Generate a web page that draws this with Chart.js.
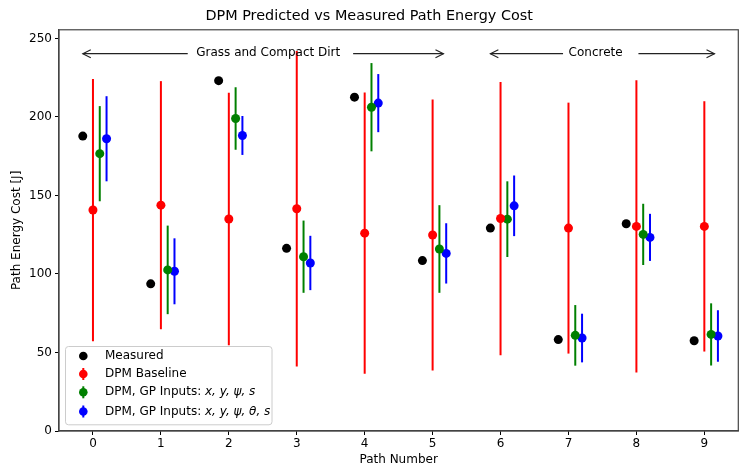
<!DOCTYPE html>
<html lang="en">
<head>
  <meta charset="UTF-8" />
  <title>DPM Predicted vs Measured Path Energy Cost</title>
  <script src="https://cdn.jsdelivr.net/npm/chart.js"></script>
  <style>
    html, body { margin: 0; padding: 0; background: #fff; }
    #wrap { width: 739px; height: 471px; }
  </style>
</head>
<body>
<div id="wrap"><canvas id="energyChart" width="739" height="471"></canvas></div>

<script>
  // path numbers and values
  const paths = [0, 1, 2, 3, 4, 5, 6, 7, 8, 9];
  const measured = [187.8, 93.7, 223.1, 116.3, 212.6, 108.5, 129.2, 58.2, 132.0, 57.5];
  const baseline = [140.7, 143.8, 135.0, 141.5, 126.0, 124.8, 135.3, 129.2, 130.3, 130.3];
  const baselineErr = [83.5, 79.0, 80.4, 100.5, 89.5, 86.3, 87.0, 79.9, 93.1, 79.7];
  const gpXyPsiS = [176.6, 102.6, 199.0, 111.0, 206.2, 115.9, 134.9, 60.9, 125.2, 61.5];
  const gpXyPsiSErr = [30.3, 28.2, 19.9, 23.0, 28.1, 27.9, 24.1, 19.3, 19.5, 19.8];
  const gpXyPsiThS = [186.1, 101.7, 188.2, 107.0, 208.8, 113.1, 143.4, 59.2, 123.3, 60.5];
  const gpXyPsiThSErr = [27.1, 21.0, 12.4, 17.3, 18.5, 19.2, 19.3, 15.5, 15.0, 16.4];
  const yTicks = [0, 50, 100, 150, 200, 250];

  const FONT = "'DejaVu Sans', sans-serif";

  const pts = (vals, off) => paths.map((p, i) => ({ x: p + off, y: vals[i] }));

  // vertical error bars, drawn under each dataset's markers
  const errorBars = {
    id: 'errorBars',
    beforeDatasetDraw(chart, args) {
      const ds = chart.data.datasets[args.index];
      if (!ds.err) return;
      const { ctx, scales: { x, y } } = chart;
      ctx.save();
      ctx.strokeStyle = ds.borderColor;
      ctx.lineWidth = 2;
      ds.data.forEach((d, i) => {
        const px = x.getPixelForValue(d.x);
        ctx.beginPath();
        ctx.moveTo(px, y.getPixelForValue(d.y - ds.err[i]));
        ctx.lineTo(px, y.getPixelForValue(d.y + ds.err[i]));
        ctx.stroke();
      });
      ctx.restore();
    }
  };

  // top/right spines
  const frame = {
    id: 'frame',
    afterDraw(chart) {
      const { ctx, chartArea: a } = chart;
      ctx.save();
      ctx.strokeStyle = '#444';
      ctx.lineWidth = 1.2;
      ctx.strokeRect(a.left, a.top, a.right - a.left, a.bottom - a.top);
      ctx.restore();
    }
  };

  // surface annotations with open arrow heads
  const surfaces = [
    { text: 'Grass and Compact Dirt', left: -0.15, lineL: 1.395, mid: 2.58, lineR: 3.83, right: 5.16 },
    { text: 'Concrete', left: 5.85, lineL: 6.92, mid: 7.4, lineR: 8.03, right: 9.15 }
  ];
  const arrowY = 240.3;

  const annotations = {
    id: 'annotations',
    afterDatasetsDraw(chart) {
      const { ctx, scales: { x, y } } = chart;
      const py = y.getPixelForValue(arrowY);
      ctx.save();
      ctx.strokeStyle = '#222';
      ctx.lineWidth = 1.1;
      const head = (tipX, dir) => {
        ctx.beginPath();
        ctx.moveTo(tipX + dir * 8, py - 4);
        ctx.lineTo(tipX, py);
        ctx.lineTo(tipX + dir * 8, py + 4);
        ctx.stroke();
      };
      surfaces.forEach(s => {
        const l = x.getPixelForValue(s.left), r = x.getPixelForValue(s.right);
        ctx.beginPath();
        ctx.moveTo(l, py); ctx.lineTo(x.getPixelForValue(s.lineL), py);
        ctx.moveTo(x.getPixelForValue(s.lineR), py); ctx.lineTo(r, py);
        ctx.stroke();
        head(l, 1);
        head(r, -1);
        ctx.fillStyle = '#000';
        ctx.font = '12px ' + FONT;
        ctx.textAlign = 'center';
        ctx.textBaseline = 'middle';
        ctx.fillText(s.text, x.getPixelForValue(s.mid), py - 1);
      });
      ctx.restore();
    }
  };

  // matplotlib-style legend in lower left of the axes
  const legendBox = {
    id: 'legendBox',
    afterDraw(chart) {
      const { ctx, chartArea: a } = chart;
      const bx = a.left + 6.5, by = a.bottom - 84.5, bw = 206.5, bh = 78.3;
      ctx.save();
      ctx.fillStyle = 'rgba(255,255,255,0.85)';
      ctx.strokeStyle = '#cccccc';
      ctx.lineWidth = 1;
      ctx.beginPath();
      ctx.roundRect(bx, by, bw, bh, 3);
      ctx.fill();
      ctx.stroke();
      const rows = [356, 374, 392.3, 411.5];
      chart.data.datasets.forEach((ds, i) => {
        const ry = rows[i];
        const mx = 83.3;
        if (ds.err) {
          ctx.strokeStyle = ds.borderColor;
          ctx.lineWidth = 2;
          ctx.beginPath();
          ctx.moveTo(mx, ry - 6); ctx.lineTo(mx, ry + 6);
          ctx.stroke();
        }
        ctx.fillStyle = ds.backgroundColor;
        ctx.beginPath();
        ctx.arc(mx, ry, 4.3, 0, Math.PI * 2);
        ctx.fill();
        ctx.fillStyle = '#000';
        ctx.textAlign = 'left';
        ctx.textBaseline = 'middle';
        let tx = 105;
        ctx.font = '12px ' + FONT;
        ctx.fillText(ds.label, tx, ry);
        if (ds.math) {
          tx += ctx.measureText(ds.label).width;
          ctx.font = 'italic 12px ' + FONT;
          ctx.fillText(ds.math, tx, ry);
        }
      });
      ctx.restore();
    }
  };

  const tickFont = { family: FONT, size: 12 };

  new Chart(document.getElementById('energyChart'), {
    type: 'scatter',
    data: {
      datasets: [
        { label: 'Measured', data: pts(measured, -0.15), backgroundColor: '#000000', borderColor: '#000000' },
        { label: 'DPM Baseline', data: pts(baseline, 0), err: baselineErr, backgroundColor: '#ff0000', borderColor: '#ff0000' },
        { label: 'DPM, GP Inputs: ', math: 'x, y, ψ, s', data: pts(gpXyPsiS, 0.1), err: gpXyPsiSErr, backgroundColor: '#008000', borderColor: '#008000' },
        { label: 'DPM, GP Inputs: ', math: 'x, y, ψ, θ, s', data: pts(gpXyPsiThS, 0.2), err: gpXyPsiThSErr, backgroundColor: '#0000ff', borderColor: '#0000ff' }
      ]
    },
    options: {
      responsive: false,
      animation: false,
      elements: { point: { radius: 4.5, borderWidth: 0, hoverRadius: 4.5 } },
      layout: { autoPadding: false, padding: { top: 0, right: 0.7, left: 0, bottom: 0 } },
      plugins: {
        legend: { display: false },
        tooltip: { enabled: false },
        title: {
          display: true,
          text: 'DPM Predicted vs Measured Path Energy Cost',
          color: '#000',
          font: { family: FONT, size: 14.4, weight: 'normal' },
          padding: { top: 8, bottom: 4.5 }
        }
      },
      scales: {
        x: {
          type: 'linear',
          min: -0.5,
          max: 9.5,
          afterBuildTicks: s => { s.ticks = paths.map(v => ({ value: v })); },
          afterFit: s => { s.height = 40; s.paddingLeft = 0; s.paddingRight = 0; },
          ticks: { color: '#000', font: tickFont, padding: 2, maxRotation: 0 },
          grid: { drawOnChartArea: false, drawTicks: true, tickLength: 4, tickColor: '#000' },
          border: { color: '#444', width: 1.2 },
          title: { display: true, text: 'Path Number', color: '#000', font: tickFont, padding: { top: 0, bottom: 3.5 } }
        },
        y: {
          min: 0,
          max: 255.5,
          afterBuildTicks: s => { s.ticks = yTicks.map(v => ({ value: v })); },
          afterFit: s => { s.width = 59; s.paddingTop = 0; s.paddingBottom = 0; },
          ticks: { color: '#000', font: tickFont, padding: 3 },
          grid: { drawOnChartArea: false, drawTicks: true, tickLength: 4, tickColor: '#000' },
          border: { color: '#444', width: 1.2 },
          title: { display: true, text: 'Path Energy Cost [J]', color: '#000', font: tickFont, padding: { top: 10, bottom: 0 } }
        }
      }
    },
    plugins: [errorBars, annotations, frame, legendBox]
  });
</script>
</body>
</html>
